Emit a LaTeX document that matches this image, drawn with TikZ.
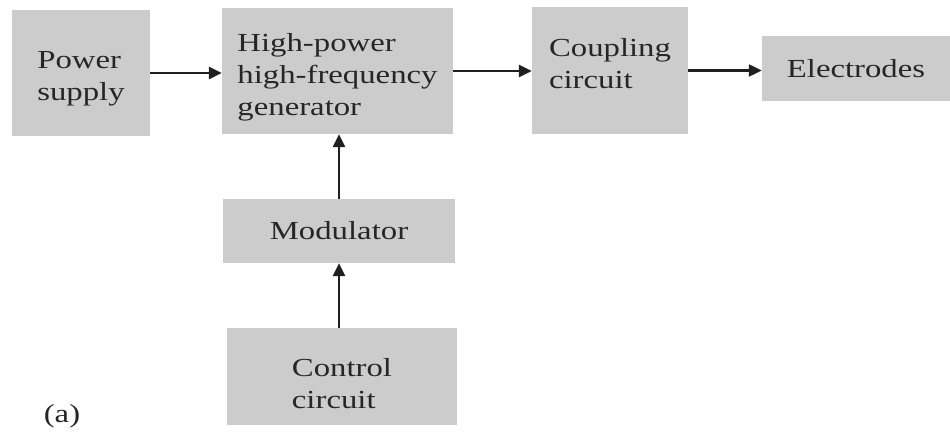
\documentclass[tikz,border=0pt]{standalone}
\usepackage{fontspec}
\setmainfont{Liberation Serif}[FakeStretch=1.26]
\usetikzlibrary{arrows.meta}
\definecolor{boxgray}{HTML}{CCCCCC}
\definecolor{txt}{HTML}{262626}
\newcommand{\blktext}[2]{\raisebox{#1}[0pt][0pt]{\begin{tabular}{@{}l@{}}#2\end{tabular}}}
\begin{document}
\begin{tikzpicture}[x=1pt,y=-1pt,
  blk/.style={fill=boxgray, draw=none, inner sep=0pt, align=left, text=txt,
    font=\fontsize{26}{32}\selectfont},
  arr/.style={draw=black!88, line width=2.8pt, -{Triangle[length=13pt,width=12pt]}}]
\useasboundingbox (0,0) rectangle (950,435);
\fill[white] (0,0) rectangle (950,435);
\node[blk, minimum width=138pt, minimum height=126pt] (ps) at (81,73) {\blktext{-11pt}{Power\\supply}};
\node[blk, minimum width=231pt, minimum height=126pt] (gen) at (337.5,71) {\blktext{-12pt}{High-power\\high-frequency\\generator}};
\node[blk, minimum width=156pt, minimum height=127pt] (coup) at (610,70.5) {\blktext{-1.5pt}{Coupling\\circuit}};
\node[blk, minimum width=188pt, minimum height=65pt, align=center] (el) at (856,68.5) {Electrodes};
\node[blk, minimum width=232pt, minimum height=64pt, align=center] (mod) at (339,231) {Modulator};
\node[blk, minimum width=230pt, minimum height=97pt] (ctrl) at (342,376.5) {\blktext{-15.5pt}{Control\\circuit}};
\node[text=txt, font=\fontsize{26}{32}\selectfont, inner sep=0pt] (lab) at (62,416) {(a)};
\draw[arr] (ps.east) -- (gen.west |- ps.east);
\draw[arr] (gen.east) -- (coup.west |- gen.east);
\draw[arr, line width=2.2pt] (coup.east) -- (el.west |- coup.east);
\draw[arr] (mod.north) -- (gen.south -| mod.north);
\draw[arr] (ctrl.north -| mod.south) -- (mod.south);
\end{tikzpicture}
\end{document}
